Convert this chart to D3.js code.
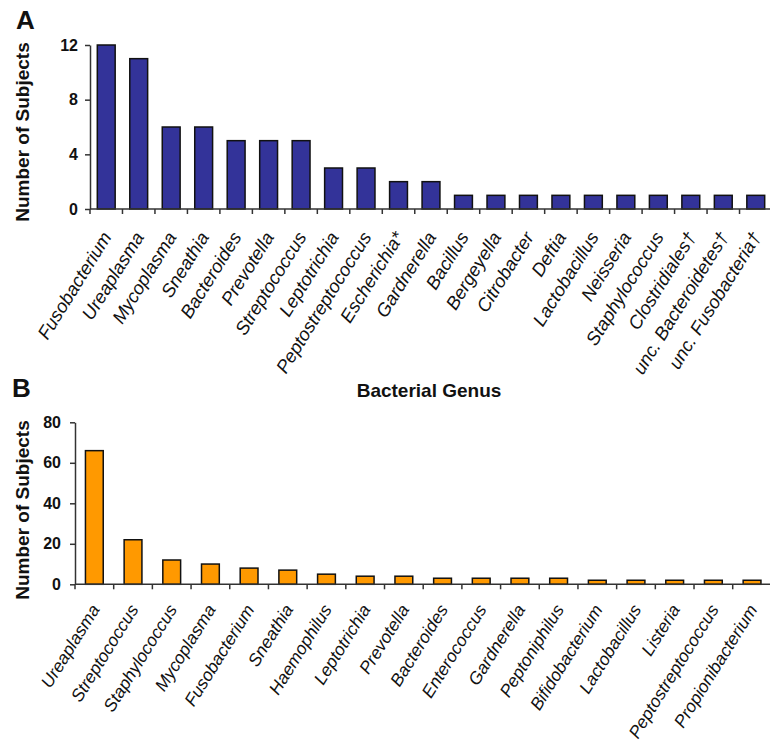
<!DOCTYPE html>
<html>
<head>
<meta charset="utf-8">
<script src="https://cdn.jsdelivr.net/npm/d3@7"></script>
<style>
  html, body { margin: 0; padding: 0; background: #fff; }
  svg { display: block; font-family: "Liberation Sans", Arial, sans-serif; }
</style>
</head>
<body>
<svg id="chart" width="770" height="746"></svg>
<script>
// Panel A: genera detected by subjects (count)
const genusA = ["Fusobacterium", "Ureaplasma", "Mycoplasma", "Sneathia", "Bacteroides",
  "Prevotella", "Streptococcus", "Leptotrichia", "Peptostreptococcus", "Escherichia*",
  "Gardnerella", "Bacillus", "Bergeyella", "Citrobacter", "Deftia", "Lactobacillus",
  "Neisseria", "Staphylococcus", "Clostridiales\u2020", "unc. Bacteroidetes\u2020",
  "unc. Fusobacteria\u2020"];
const subjectsA = [12, 11, 6, 6, 5, 5, 5, 3, 3, 2, 2, 1, 1, 1, 1, 1, 1, 1, 1, 1, 1];
const ticksA = [0, 4, 8, 12];

// Panel B: genera detected by subjects (count)
const genusB = ["Ureaplasma", "Streptococcus", "Staphylococcus", "Mycoplasma", "Fusobacterium",
  "Sneathia", "Haemophilus", "Leptotrichia", "Prevotella", "Bacteroides", "Enterococcus",
  "Gardnerella", "Peptoniphilus", "Bifidobacterium", "Lactobacillus", "Listeria",
  "Peptostreptococcus", "Propionibacterium"];
const subjectsB = [66, 22, 12, 10, 8, 7, 5, 4, 4, 3, 3, 3, 3, 2, 2, 2, 2, 2];
const ticksB = [0, 20, 40, 60, 80];

const svg = d3.select("#chart");
const ink = "#111";
const axisInk = "#333";

function panel(cfg) {
  const x = d3.scaleBand().domain(cfg.cats).range([cfg.left, cfg.right]).paddingInner(cfg.pad).paddingOuter(cfg.pad / 2);
  const y = d3.scaleLinear().domain([0, cfg.max]).range([cfg.bottom, cfg.top]);
  const g = svg.append("g");

  // bars
  g.selectAll("rect.bar").data(cfg.vals).join("rect")
    .attr("class", "bar")
    .attr("x", (d, i) => x(cfg.cats[i]))
    .attr("width", x.bandwidth())
    .attr("y", d => y(d))
    .attr("height", d => y(0) - y(d))
    .attr("fill", cfg.fill)
    .attr("stroke", "#111")
    .attr("stroke-width", 1.5);

  // y axis
  const ya = g.append("g")
    .attr("transform", `translate(${cfg.left},0)`)
    .call(d3.axisLeft(y).tickValues(cfg.ticks).tickSize(5).tickPadding(cfg.tickPad).tickSizeOuter(0));
  ya.select(".domain").attr("stroke", axisInk).attr("stroke-width", 1.5);
  ya.selectAll(".tick line").attr("stroke", axisInk).attr("stroke-width", 1.5);
  ya.selectAll(".tick text")
    .attr("fill", ink).attr("font-size", 16).attr("font-weight", "bold")
    .attr("font-family", "Liberation Sans, Arial, sans-serif");

  // x axis: ticks sit between categories
  const xa = g.append("g").attr("transform", `translate(0,${cfg.bottom})`);
  xa.append("line")
    .attr("x1", cfg.left).attr("x2", cfg.right)
    .attr("stroke", axisInk).attr("stroke-width", 1.5);
  const step = x.step();
  const bounds = d3.range(cfg.cats.length + 1).map(i => cfg.left + i * step);
  xa.selectAll("line.tk").data(bounds).join("line")
    .attr("class", "tk")
    .attr("x1", d => d).attr("x2", d => d)
    .attr("y1", 0).attr("y2", 5)
    .attr("stroke", axisInk).attr("stroke-width", 1.5);

  // rotated category labels
  xa.selectAll("text.cat").data(cfg.cats).join("text")
    .attr("class", "cat")
    .attr("transform", d => `translate(${x(d) + x.bandwidth() / 2 + cfg.labelDx},${cfg.labelDy}) rotate(${cfg.angle})`)
    .attr("text-anchor", "end")
    .attr("font-size", cfg.labelSize)
    .attr("font-style", "italic")
    .attr("fill", ink)
    .text(d => d);

  // y axis title
  g.append("text")
    .attr("transform", `translate(${cfg.titleX},${cfg.titleY}) rotate(-90)`)
    .attr("text-anchor", "middle")
    .attr("font-size", 19)
    .attr("font-weight", "bold")
    .attr("fill", ink)
    .text("Number of Subjects");

  // panel letter
  svg.append("text")
    .attr("x", cfg.letterX).attr("y", cfg.letterY)
    .attr("font-size", 26).attr("font-weight", "bold").attr("fill", ink)
    .text(cfg.letter);
}

panel({
  cats: genusA, vals: subjectsA, ticks: ticksA, max: 12,
  left: 90, right: 772, top: 45, bottom: 209, pad: 0.45,
  fill: "#333399", tickPad: 7,
  angle: -58, labelDx: 6, labelDy: 28, labelSize: 18.5,
  titleX: 29, titleY: 132,
  letter: "A", letterX: 16, letterY: 29
});

panel({
  cats: genusB, vals: subjectsB, ticks: ticksB, max: 80,
  left: 75, right: 771.4, top: 422.3, bottom: 584.3, pad: 0.54,
  fill: "#FF9900", tickPad: 9,
  angle: -58, labelDx: 6, labelDy: 25, labelSize: 17.5,
  titleX: 29, titleY: 510,
  letter: "B", letterX: 12, letterY: 397
});

// x axis title shared by the genus labels
svg.append("text")
  .attr("x", 429).attr("y", 397)
  .attr("text-anchor", "middle")
  .attr("font-size", 19).attr("font-weight", "bold").attr("fill", ink)
  .text("Bacterial Genus");
</script>
</body>
</html>
